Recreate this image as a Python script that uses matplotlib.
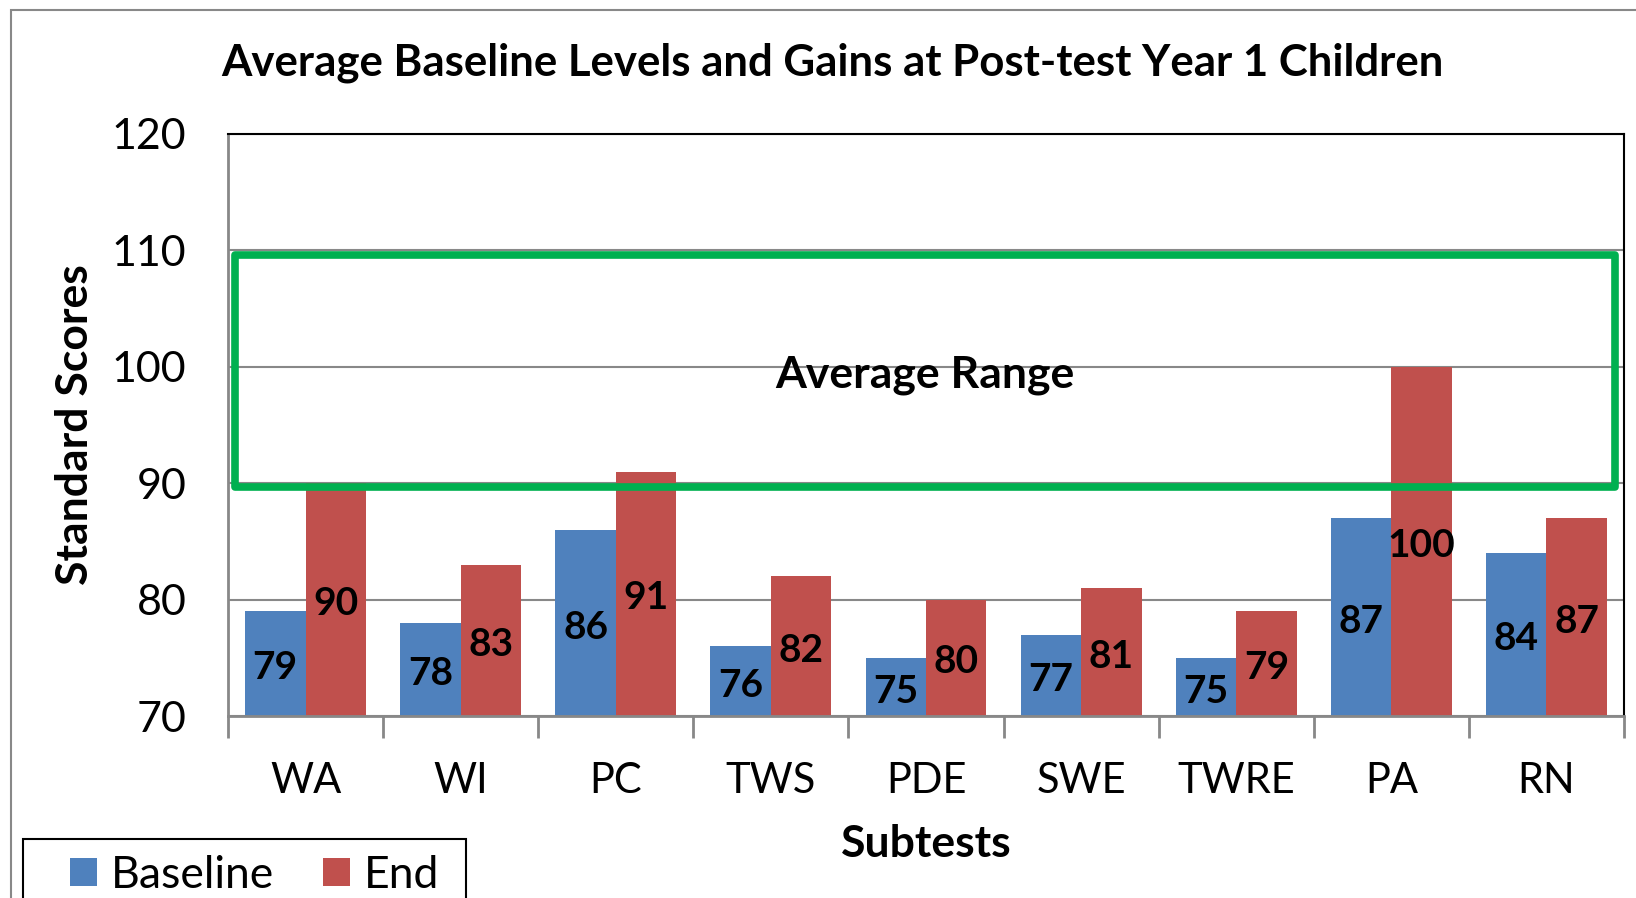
import numpy as np
import matplotlib
matplotlib.use("Agg")
import matplotlib.pyplot as plt
from matplotlib.patches import Rectangle

plt.rcParams['font.family'] = ['Lato', 'DejaVu Sans']

subtests = ["WA", "WI", "PC", "TWS", "PDE", "SWE", "TWRE", "PA", "RN"]
baseline = [79, 78, 86, 76, 75, 77, 75, 87, 84]
end = [90, 83, 91, 82, 80, 81, 79, 100, 87]
avg_low, avg_high = 90, 110
y_ticks = [70, 80, 90, 100, 110, 120]

W, H = 1636, 898
fig = plt.figure(figsize=(W / 100, H / 100), dpi=100)

# outer chart border (clipped on the right / bottom like the source)
fig.patches.append(Rectangle((11 / W, -0.2), 2, 1.2 - 10 / H, transform=fig.transFigure,
                             fill=False, edgecolor="#888888", lw=1.5))

ax = fig.add_axes([228 / W, (H - 716) / H, 1396 / W, 582 / H])

x = np.arange(len(subtests))
bw = 0.39
b1 = ax.bar(x - bw / 2, np.array(baseline) - 70, bw, bottom=70, color="#4F81BD", zorder=2)
b2 = ax.bar(x + bw / 2, np.array(end) - 70, bw, bottom=70, color="#C0504D", zorder=2)

for bars, vals in ((b1, baseline), (b2, end)):
    for r, v in zip(bars, vals):
        ax.annotate(str(v), (r.get_x() + r.get_width() / 2, (70 + v) / 2), xytext=(0, -3),
                    textcoords="offset points", ha="center", va="center",
                    fontsize=28, fontweight="bold", color="black", zorder=4)

# average range box
ax.add_patch(Rectangle((-0.455, avg_low - 0.35), 8.9, avg_high - avg_low - 0.05, fill=False,
                       edgecolor="#00B050", lw=5.5, joinstyle="round", zorder=3))
ax.text(3.99, 99.3, "Average Range", ha="center", va="center", fontsize=32,
        fontweight="bold", zorder=4)

ax.set_xlim(-0.5, 8.5)
ax.set_ylim(70, 120)
ax.set_yticks(y_ticks)
ax.set_yticklabels([str(t) for t in y_ticks])
ax.set_xticks(x)
ax.set_xticklabels(subtests)
ax.set_xticks(np.arange(-0.5, 9, 1), minor=True)
ax.tick_params(axis="y", length=0, pad=30, labelsize=31)
ax.tick_params(axis="x", which="major", length=0, pad=33, labelsize=30)
ax.tick_params(axis="x", which="minor", length=16, width=2, color="#888888", direction="out")
ax.grid(axis="y", color="#888888", lw=1.5, zorder=1)
ax.set_axisbelow(True)

for s in ("left", "bottom"):
    ax.spines[s].set_color("#888888")
    ax.spines[s].set_linewidth(2)
for s in ("top", "right"):
    ax.spines[s].set_color("black")
    ax.spines[s].set_linewidth(1.5)

ax.set_xlabel("Subtests", fontsize=32, fontweight="bold")
ax.xaxis.set_label_coords(0.5, (716 - 844) / 582)
ax.xaxis.label.set_va("center")
ax.set_ylabel("Standard Scores", fontsize=32, fontweight="bold")
ax.yaxis.set_label_coords((75 - 228) / 1396, 0.5)
ax.yaxis.label.set_va("center")

fig.suptitle("Average Baseline Levels and Gains at Post-test Year 1 Children", x=832 / W,
             y=1 - 63 / H, va="center", fontsize=31.5, fontweight="bold")

# legend box, cut by the bottom edge as in the source
fig.patches.append(Rectangle((23 / W, -0.1), 443 / W, 0.1 + (H - 839) / H,
                             transform=fig.transFigure, fill=False, edgecolor="black", lw=1.5))
leg = fig.legend([b1, b2], ["Baseline", "End"], loc="center",
                 bbox_to_anchor=(255 / W, 1 - 875 / H), ncol=2, fontsize=32, frameon=False,
                 handlelength=0.6, handleheight=0.6, handletextpad=0.32, columnspacing=1.1,
                 borderpad=0.1)

fig.savefig("out.png", dpi=100)
